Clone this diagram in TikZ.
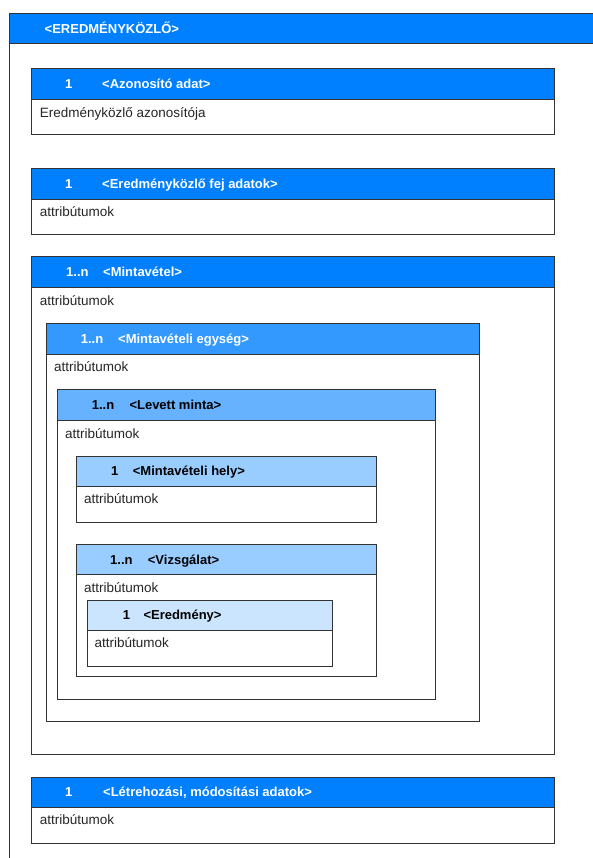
\documentclass[tikz,border=0pt]{standalone}
\usepackage{fontspec}
\setmainfont{Liberation Sans}

\definecolor{hdrA}{HTML}{0080FF}
\definecolor{hdrB}{HTML}{3399FF}
\definecolor{hdrC}{HTML}{66B2FF}
\definecolor{hdrD}{HTML}{99CCFF}
\definecolor{hdrE}{HTML}{CCE5FF}
\definecolor{edge}{HTML}{333333}

\tikzset{
  frame/.style={draw=edge,line width=1pt,fill=white},
  htxt/.style={anchor=base west,inner sep=0pt,font=\fontsize{13}{15}\selectfont\bfseries},
  btxt/.style={anchor=base west,inner sep=0pt,text=black!85,font=\fontsize{13.5}{16}\selectfont},
}

\begin{document}
\begin{tikzpicture}[x=1pt,y=-1pt]
     \clip (0,0) rectangle (593,858);
     % outer frame
     \draw[frame] (9,13.5) rectangle (620,880);
     \draw[frame,fill=hdrA] (9,13.5) rectangle (620,44);
     \node[htxt,white] (kozlo) at (44.5,33.5) {<EREDMÉNYKÖZLŐ>};
     % boxes, outer ones first
     \foreach \n/\xa/\ya/\xb/\yb/\c in {azon/31.5/69/554/135/hdrA,
       fej/31.5/169/554/234.5/hdrA, minta/31.5/257/554/754/hdrA,
       egys/46/323.5/479.5/721/hdrB, levett/57.3/389.5/435/699/hdrC,
       hely/76/456/376/522.5/hdrD, vizsg/76/544.3/376/676.7/hdrD,
       ered/87.3/600/332/666/hdrE, letre/31.5/777/554/843/hdrA} {
      \draw[frame] (\xa,\ya) rectangle (\xb,\yb);
      \draw[frame,fill=\c] (\xa,\ya) rectangle (\xb,\ya+30.5);
     }
     % headers
     \node[htxt,white] (azon-m) at (65,88.7) {1};
     \node[htxt,white] (azon-t) at (102,88.7) {<Azonosító adat>};
     \node[htxt,white] (fej-m) at (65,188.7) {1};
     \node[htxt,white] (fej-t) at (102,188.7) {<Eredményközlő fej adatok>};
     \node[htxt,white] (minta-m) at (66,276.7) {1..n};
     \node[htxt,white] (minta-t) at (103,276.7) {<Mintavétel>};
     \node[htxt,white] (egys-m) at (80.6,343.2) {1..n};
     \node[htxt,white] (egys-t) at (118,343.2) {<Mintavételi egység>};
     \node[htxt,black] (levett-m) at (91.7,409.2) {1..n};
     \node[htxt,black] (levett-t) at (129.3,409.2) {<Levett minta>};
     \node[htxt,black] (hely-m) at (111,475.7) {1};
     \node[htxt,black] (hely-t) at (132.7,475.7) {<Mintavételi hely>};
     \node[htxt,black] (vizsg-m) at (110,564) {1..n};
     \node[htxt,black] (vizsg-t) at (147.7,564) {<Vizsgálat>};
     \node[htxt,black] (ered-m) at (122.7,619.7) {1};
     \node[htxt,black] (ered-t) at (143.3,619.7) {<Eredmény>};
     \node[htxt,white] (letre-m) at (65,796.7) {1};
     \node[htxt,white] (letre-t) at (103,796.7) {<Létrehozási, módosítási adatok>};
     % bodies
     \node[btxt] (azon-b) at (39.7,117.8) {Eredményközlő azonosítója};
     \node[btxt] (fej-b) at (39.7,216.8) {attribútumok};
     \node[btxt] (minta-b) at (39.7,305.5) {attribútumok};
     \node[btxt] (egys-b) at (54,371.5) {attribútumok};
     \node[btxt] (levett-b) at (65,438.8) {attribútumok};
     \node[btxt] (hely-b) at (84,503.8) {attribútumok};
     \node[btxt] (vizsg-b) at (84,592.8) {attribútumok};
     \node[btxt] (ered-b) at (94.3,647.8) {attribútumok};
     \node[btxt] (letre-b) at (39.7,824.8) {attribútumok};
    \end{tikzpicture}
\end{document}
